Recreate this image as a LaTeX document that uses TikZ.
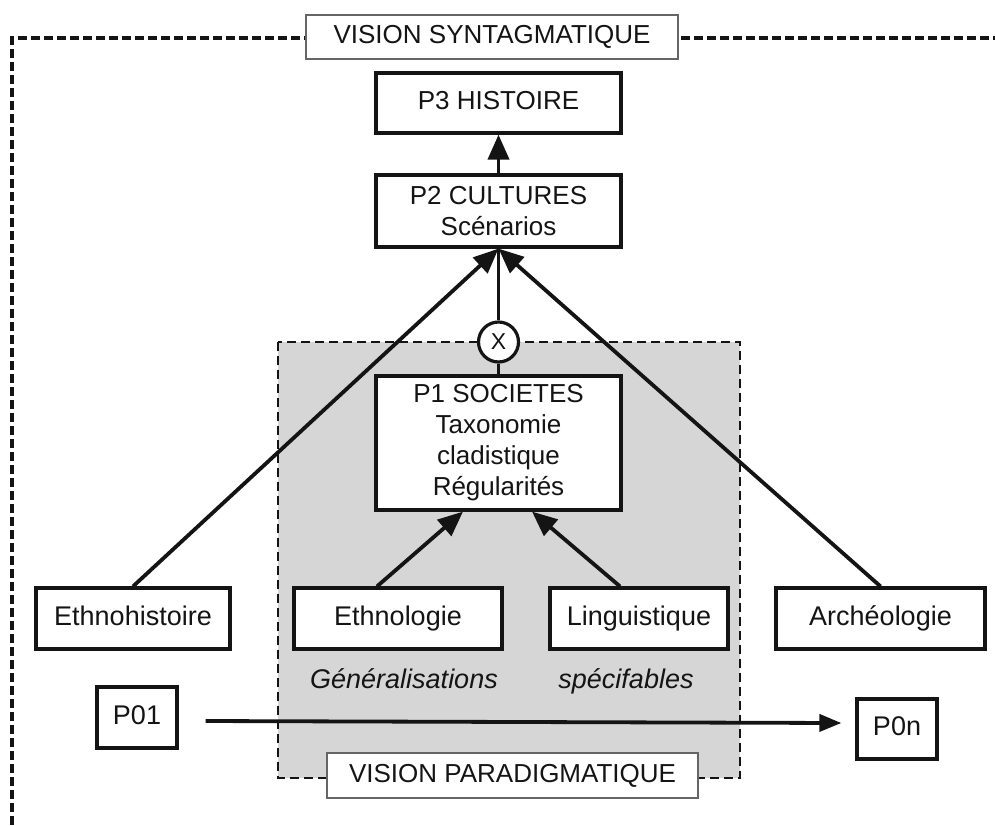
\documentclass[tikz,border=0pt]{standalone}
\usepackage{fontspec}
\setmainfont{Liberation Sans}
\usetikzlibrary{arrows.meta,calc}
\definecolor{ink}{RGB}{20,20,20}
\definecolor{areagrey}{RGB}{214,214,214}
\tikzset{
  box/.style={draw=ink, line width=3.2pt, fill=white, inner sep=0pt, align=center,
    text=ink, font=\fontsize{26}{31}\selectfont},
  onebox/.style={box, text height=19pt, text depth=6pt},
  lowbox/.style={onebox, font=\fontsize{27}{31}\selectfont, minimum height=61pt},
  titlebox/.style={draw=black!60, line width=1.8pt, fill=white, inner sep=0pt,
    text=ink, font=\fontsize{26}{31}\selectfont, text height=19pt, text depth=6pt},
  xcircle/.style={draw=ink, line width=3.2pt, fill=white, circle, minimum size=40pt,
    inner sep=0pt, text=ink, font=\fontsize{23}{23}\selectfont},
  link/.style={draw=ink, line width=3.8pt},
  arr/.style={link, -{Triangle[length=25pt,width=21pt]}},
  outerdash/.style={draw=ink, line width=3.2pt, dash pattern=on 9pt off 4pt},
  innerdash/.style={draw=ink, line width=2.2pt, dash pattern=on 9pt off 5pt},
  note/.style={text=ink, font=\fontsize{27}{31}\selectfont\itshape, anchor=base},
}
\begin{document}
\begin{tikzpicture}[x=1pt, y=-1pt]
\useasboundingbox (0,0) rectangle (995,825);

% shaded paradigmatic area
\fill[areagrey] (278,342) rectangle (740,778);
\draw[innerdash] (278,342) rectangle (740,778);

% outer syntagmatic frame (top and left sides)
\draw[outerdash] (12,825) -- (12,38) -- (995,38);

% nodes
\node[titlebox, minimum width=372pt, minimum height=44pt] (vs) at (492,37) {VISION SYNTAGMATIQUE};
\node[onebox, minimum width=245pt, minimum height=60pt] (p3) at (498.5,103) {P3 HISTOIRE};
\node[box, minimum width=245pt, minimum height=72pt] (p2) at (498.5,211) {P2 CULTURES\\Scénarios};
\node[box, minimum width=245pt, minimum height=134pt] (p1) at (498.5,443)
  {P1 SOCIETES\\Taxonomie\\cladistique\\Régularités};
\node[xcircle] (cx) at (498.5,342) {X};

\node[lowbox, minimum width=194pt] (eh) at (133,618.5) {Ethnohistoire};
\node[lowbox, minimum width=208pt] (el) at (398,618.5) {Ethnologie};
\node[lowbox, minimum width=178pt] (li) at (639,618.5) {Linguistique};
\node[lowbox, minimum width=209pt] (ar) at (880.5,618.5) {Archéologie};

\node[note] (gen) at (404,688) {Généralisations};
\node[note] (spe) at (626,688) {spécifables};

\node[lowbox, minimum width=80pt] (p01) at (137,717.5) {P01};
\node[lowbox, minimum width=80pt, minimum height=60pt] (p0n) at (897,729) {P0n};

\node[titlebox, minimum width=371pt, minimum height=45pt] (vp) at (512.5,775.5) {VISION PARADIGMATIQUE};

% connectors
\draw[arr] (p2.north) -- (p3.south);
\draw[link] (cx.north) -- (p2.south);
\draw[link] (cx.south) -- (p1.north);
\draw[arr] (eh.north) -- (p2.south);
\draw[arr] (ar.north) -- (p2.south);
\draw[arr] ($(el.north)+(-21,0)$) -- ($(p1.south)+(-35.5,0)$);
\draw[arr] ($(li.north)+(-19,0)$) -- ($(p1.south)+(33.5,0)$);
\draw[link, -{Triangle[length=22pt,width=17pt]}] ($(p01.east)+(27,3.5)$) -- ($(p0n.west)+(-14,-6)$);
\end{tikzpicture}
\end{document}
